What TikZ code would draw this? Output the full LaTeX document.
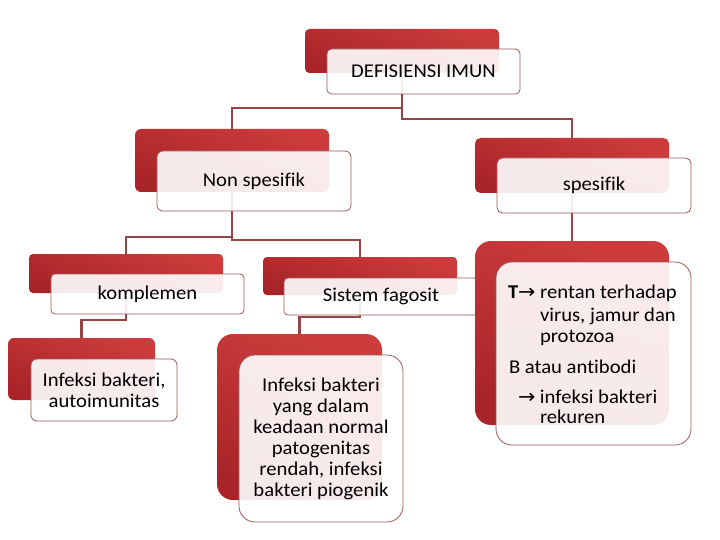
\documentclass[tikz,border=0pt]{standalone}
\usepackage{fontspec}
\setmainfont{Carlito}[Ligatures={TeX,NoCommon,NoContextual,NoRare}, RawFeature={-liga;-clig;-calt;-dlig}, FakeStretch=1.06]
\newfontfamily\arrowfont{DejaVu Sans}[FakeStretch=1.06]
\usetikzlibrary{calc}
\pgfdeclarelayer{bg}
\pgfsetlayers{bg,main}
\definecolor{redA}{RGB}{204,60,60}
\definecolor{redB}{RGB}{168,36,40}
\definecolor{lineC}{RGB}{150,68,70}
\definecolor{edgeC}{RGB}{160,88,90}
\tikzset{
  redbox/.style={inner sep=0pt, outer sep=0pt, top color=redA, bottom color=redB, shading angle=-20, draw=none},
  whitebox/.style={inner sep=2pt, outer sep=0pt, fill=white, fill opacity=0.9, text opacity=1,
    draw=edgeC, line width=0.8pt, align=center, font=\fontsize{19.5}{21}\selectfont},
  conn/.style={draw=lineC, line width=2.6pt},
  txtline/.style={inner sep=0pt, outer sep=0pt, anchor=base west, font=\fontsize{19.5}{21}\selectfont}
}
\begin{document}
\begin{tikzpicture}[x=1pt,y=-1pt]
\useasboundingbox (0,0) rectangle (720,540);
\begin{pgfonlayer}{bg}
  \fill[white] (0,0) rectangle (720,540);
\end{pgfonlayer}
% level 0
\node[redbox, minimum width=194pt, minimum height=44pt, rounded corners=4.4pt] (r1) at (402,51) {};
\node[whitebox, minimum width=193pt, minimum height=45pt, rounded corners=4.5pt] (w1) at (423.5,71.5) {DEFISIENSI IMUN};
% level 1
\node[redbox, minimum width=194pt, minimum height=63pt, rounded corners=6pt] (r2) at (232,160.5) {};
\node[whitebox, minimum width=194pt, minimum height=60pt, rounded corners=6pt] (w2) at (254,181) {Non spesifik};
\node[redbox, minimum width=194pt, minimum height=55pt, rounded corners=5.5pt] (r3) at (572,165.5) {};
\node[whitebox, minimum width=194pt, minimum height=55pt, rounded corners=5.5pt] (w3) at (594,185.5) {spesifik};
% level 2
\node[redbox, minimum width=194pt, minimum height=39pt, rounded corners=4pt] (r4) at (126,273.5) {};
\node[whitebox, minimum width=193pt, minimum height=40pt, rounded corners=4pt] (w4) at (147.5,294) {komplemen};
\node[redbox, minimum width=194pt, minimum height=38pt, rounded corners=4pt] (r5) at (360,276) {};
\node[whitebox, minimum width=194pt, minimum height=37pt, rounded corners=4pt] (w5) at (381,296.5) {Sistem fagosit};
% level 3
\node[redbox, minimum width=147pt, minimum height=62pt, rounded corners=6pt] (r6) at (81.5,369) {};
\node[whitebox, minimum width=146pt, minimum height=62pt, rounded corners=6pt] (w6) at (104,390) {Infeksi bakteri,\\autoimunitas};
\node[redbox, minimum width=165pt, minimum height=166pt, rounded corners=16pt] (r7) at (299.5,417) {};
\node[whitebox, minimum width=164pt, minimum height=167pt, rounded corners=16pt] (w7) at (321,438.5) {Infeksi bakteri\\yang dalam\\keadaan normal\\patogenitas\\rendah, infeksi\\bakteri piogenik};
\node[redbox, minimum width=194pt, minimum height=184pt, rounded corners=16pt] (r8) at (572,333) {};
\node[whitebox, minimum width=195pt, minimum height=183pt, rounded corners=16pt] (w8) at (593.5,353.5) {};
\node[txtline] (t1) at (508,298) {\textbf{T}{\arrowfont →} rentan terhadap};
\node[txtline] (t2) at (540,321) {virus, jamur dan};
\node[txtline] (t3) at (540,342) {protozoa};
\node[txtline] (t4) at (509,373) {B atau antibodi};
\node[txtline] (t5) at (518,403) {{\arrowfont →} infeksi bakteri};
\node[txtline] (t6) at (540,423) {rekuren};
% connectors
\coordinate (h1) at (0,108);
\coordinate (h2) at (0,119);
\coordinate (h3) at (0,237);
\coordinate (h4) at (0,240);
\coordinate (h5) at (0,320);
\coordinate (h6) at (0,317);
\begin{pgfonlayer}{bg}
  \draw[conn] (r1.south) -- (r1.south |- h1) -| (r2.north);
  \draw[conn] (r1.south) -- (r1.south |- h2) -| (r3.north);
  \draw[conn] (r2.south) -- (r2.south |- h3) -| (r4.north);
  \draw[conn] (r2.south) -- (r2.south |- h4) -| (r5.north);
  \draw[conn] (r4.south) -- (r4.south |- h5) -| (r6.north);
  \draw[conn] (r5.south) -- (r5.south |- h6) -| (r7.north);
  \draw[conn] (r3.south) -- (r8.north);
\end{pgfonlayer}
\end{tikzpicture}
\end{document}
